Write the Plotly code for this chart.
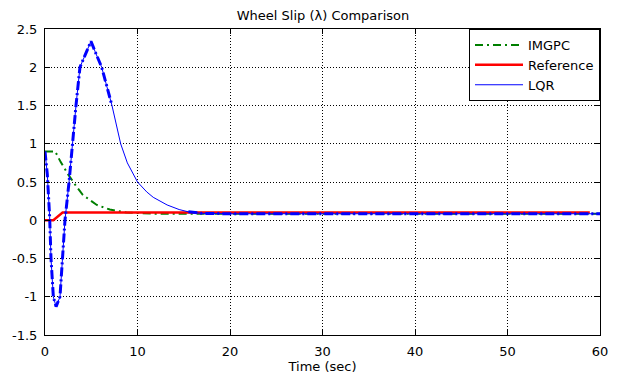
import plotly.graph_objects as go

# --- data ---
lqr_t = [0, 0.25, 0.5, 0.65, 0.9, 1.2, 1.62, 1.9, 2.16, 2.6, 2.95, 3.35, 3.78, 4.3, 4.97,
         5.5, 6.13, 7.24, 8.18, 8.9, 10.0, 11.0, 11.7, 13.2, 14.5, 15.5, 17, 20, 30, 40, 50, 60]
lqr_y = [0.9, 0.6, 0.05, -0.5, -1.0, -1.13, -1.0, -0.5, 0.0, 0.5, 1.0, 1.5, 2.0, 2.15, 2.34,
         2.18, 2.0, 1.5, 1.0, 0.75, 0.5, 0.37, 0.3, 0.2, 0.14, 0.11, 0.09, 0.085, 0.085, 0.085, 0.085, 0.085]

# thick dashed overlay of the LQR curve (not visible on the slow decay part)
lqr_dash_t = [0, 0.25, 0.5, 0.65, 0.9, 1.2, 1.62, 1.9, 2.16, 2.6, 2.95, 3.35, 3.78, 4.3, 4.97,
              5.5, 6.13, 7.24, 7.6, 15.5, 17, 20, 30, 40, 50, 60]
lqr_dash_y = [0.9, 0.6, 0.05, -0.5, -1.0, -1.13, -1.0, -0.5, 0.0, 0.5, 1.0, 1.5, 2.0, 2.15, 2.34,
              2.18, 2.0, 1.5, None, 0.11, 0.09, 0.085, 0.085, 0.085, 0.085, 0.085]

imgpc_t = [0, 1.1, 1.7, 2.5, 3.4, 4.1, 5.6, 7.0, 8.8, 12, 60]
imgpc_y = [0.9, 0.9, 0.76, 0.6, 0.44, 0.33, 0.2, 0.14, 0.10, 0.085, 0.085]

ref_t = [0, 0.9, 1.9, 58.9]
ref_y = [0, 0, 0.1, 0.1]

x_ticks = [0, 10, 20, 30, 40, 50, 60]
y_ticks = [-1.5, -1, -0.5, 0, 0.5, 1, 1.5, 2, 2.5]
y_tick_text = ["-1.5", "-1", "-0.5", "0", "0.5", "1", "1.5", "2", "2.5"]

FONT = "DejaVu Sans, sans-serif"

# page body has an 8px default margin; figure is sized so it fits the 624x382 window
W, H = 608, 366
OFF = 8

fig = go.Figure()
fig.add_trace(go.Scatter(x=imgpc_t, y=imgpc_y, mode="lines", name="IMGPC",
                         line=dict(color="#007f00", width=2, dash="8px,4px,2px,4px")))
fig.add_trace(go.Scatter(x=ref_t, y=ref_y, mode="lines", name="Reference",
                         line=dict(color="#ff0000", width=2.5)))
fig.add_trace(go.Scatter(x=lqr_t, y=lqr_y, mode="lines", name="LQR",
                         line=dict(color="#0000ff", width=1)))
fig.add_trace(go.Scatter(x=lqr_dash_t, y=lqr_dash_y, mode="lines", name="LQR (dash)",
                         showlegend=False, connectgaps=False,
                         line=dict(color="#0000ff", width=3, dash="9px,3px,2px,3px")))

axis_common = dict(showline=True, mirror="ticks", linecolor="black", linewidth=1,
                   ticks="inside", ticklen=5, tickcolor="black", automargin=False,
                   showgrid=True, gridcolor="black", gridwidth=1, griddash="1px,2px",
                   zeroline=False, tickfont=dict(family=FONT, size=13, color="black"))

fig.update_xaxes(range=[0, 60], tickvals=x_ticks, ticklabelstandoff=4, **axis_common,
                 title=dict(text="Time (sec)", font=dict(family=FONT, size=13, color="black"),
                            standoff=2))
fig.update_yaxes(range=[-1.5, 2.5], tickvals=y_ticks, ticktext=y_tick_text,
                 ticklabelstandoff=4, **axis_common)

fig.update_layout(
    width=W, height=H,
    margin=dict(l=45 - OFF, r=OFF + W - 600, t=29 - OFF, b=OFF + H - 335),
    paper_bgcolor="white", plot_bgcolor="white",
    title=dict(text="Wheel Slip (λ) Comparison", x=(323 - OFF) / W, xanchor="center",
               y=1 - 3 / H, yanchor="top", yref="container", pad=dict(t=0, b=0),
               font=dict(family=FONT, size=13, color="black")),
    legend=dict(x=1, xanchor="right", y=1, yanchor="top", bgcolor="white",
                bordercolor="black", borderwidth=1,
                font=dict(family=FONT, size=13, color="black"),
                tracegroupgap=0, itemwidth=48),
    showlegend=True,
)

fig.write_html("out.html")
